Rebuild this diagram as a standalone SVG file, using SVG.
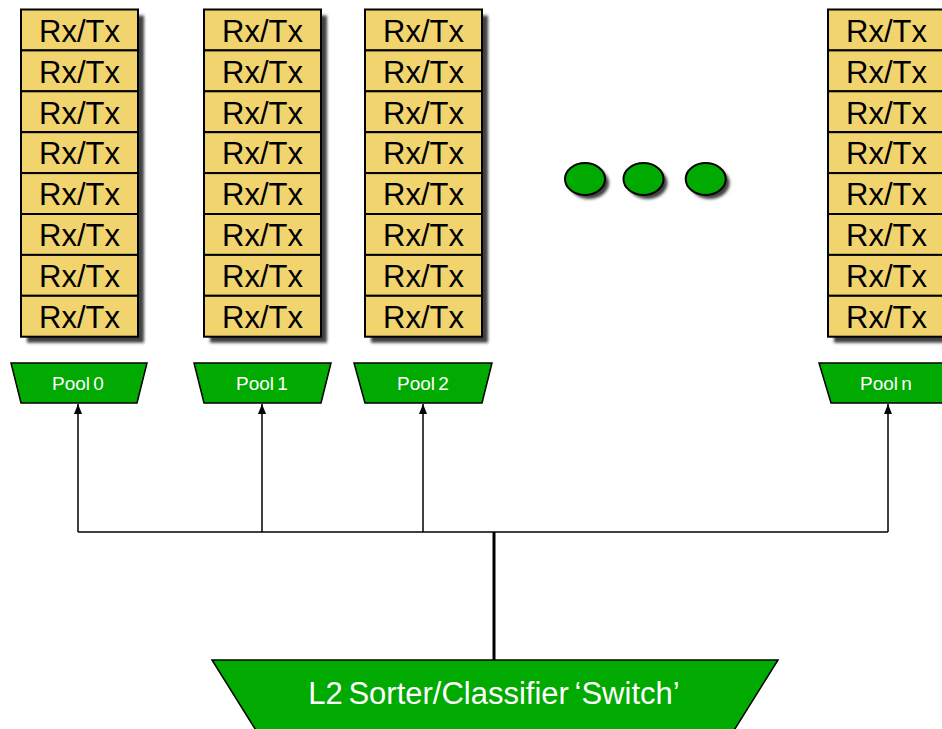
<svg xmlns="http://www.w3.org/2000/svg" width="942" height="729" viewBox="0 0 942 729">
  <defs>
    <filter id="soft" x="-20%" y="-20%" width="140%" height="140%">
      <feGaussianBlur stdDeviation="1.5"/>
    </filter>
    <marker id="arrow" markerWidth="10" markerHeight="8" refX="10" refY="4" orient="auto" markerUnits="userSpaceOnUse" viewBox="0 0 10 8">
      <path d="M0,0 L10,4 L0,8 Z" fill="#000"/>
    </marker>
    <!-- one stack of eight Rx/Tx queues, 117 wide -->
    <g id="stack">
      <rect x="6" y="6" width="117" height="327.2" fill="#404040" filter="url(#soft)"/>
      <g class="cell">
        <rect x="0" y="0" width="117" height="40.9"/>
        <rect x="0" y="40.9" width="117" height="40.9"/>
        <rect x="0" y="81.8" width="117" height="40.9"/>
        <rect x="0" y="122.7" width="117" height="40.9"/>
        <rect x="0" y="163.6" width="117" height="40.9"/>
        <rect x="0" y="204.5" width="117" height="40.9"/>
        <rect x="0" y="245.4" width="117" height="40.9"/>
        <rect x="0" y="286.3" width="117" height="40.9"/>
      </g>
      <g class="q">
        <text x="58.5" y="32.2">Rx/Tx</text>
        <text x="58.5" y="73.1">Rx/Tx</text>
        <text x="58.5" y="114">Rx/Tx</text>
        <text x="58.5" y="154.9">Rx/Tx</text>
        <text x="58.5" y="195.8">Rx/Tx</text>
        <text x="58.5" y="236.7">Rx/Tx</text>
        <text x="58.5" y="277.6">Rx/Tx</text>
        <text x="58.5" y="318.5">Rx/Tx</text>
      </g>
    </g>
  </defs>
  <style>
    .cell rect { fill: #F2D46E; stroke: #000; stroke-width: 2; }
    .q text { font-family: "Liberation Sans", Arial, sans-serif; font-size: 31px; fill: #000; text-anchor: middle; }
    .pool { fill: #00AA00; stroke: #000; stroke-width: 1.5; stroke-linejoin: miter; }
    .plabel { font-family: "Liberation Sans", Arial, sans-serif; font-size: 19px; fill: #fff; text-anchor: middle; word-spacing: -2px; }
    .dot { fill: #00AA00; stroke: #000; stroke-width: 2; }
    .wire { fill: none; stroke: #000; stroke-width: 1.5; }
  </style>

  <!-- queue stacks -->
  <g id="stack0"><use href="#stack" x="21" y="9.5"/></g>
  <g id="stack1"><use href="#stack" x="204" y="9.5"/></g>
  <g id="stack2"><use href="#stack" x="365" y="9.5"/></g>
  <g id="stackn"><use href="#stack" x="828" y="9.5"/></g>

  <!-- ellipsis dots -->
  <g id="more">
    <ellipse cx="589" cy="183" rx="20" ry="16" fill="#404040" filter="url(#soft)"/>
    <ellipse cx="647.5" cy="183" rx="20" ry="16" fill="#404040" filter="url(#soft)"/>
    <ellipse cx="709.7" cy="183" rx="20" ry="16" fill="#404040" filter="url(#soft)"/>
    <ellipse class="dot" cx="585" cy="179" rx="20" ry="16"/>
    <ellipse class="dot" cx="643.5" cy="179" rx="20" ry="16"/>
    <ellipse class="dot" cx="705.7" cy="179" rx="20" ry="16"/>
  </g>

  <!-- pools -->
  <g id="pool0">
    <polygon class="pool" points="11,363 147,363 137,403 21,403"/>
    <text class="plabel" x="78" y="390">Pool 0</text>
  </g>
  <g id="pool1">
    <polygon class="pool" points="194,363 331,363 321,403 204,403"/>
    <text class="plabel" x="262" y="390">Pool 1</text>
  </g>
  <g id="pool2">
    <polygon class="pool" points="354,363 492,363 482,403 365,403"/>
    <text class="plabel" x="423" y="390">Pool 2</text>
  </g>
  <g id="pooln">
    <polygon class="pool" points="819,363 955,363 945,403 831,403"/>
    <text class="plabel" x="886" y="390">Pool n</text>
  </g>

  <!-- switch -->
  <g id="switch">
    <polygon class="pool" points="212,660 778,660 728,740 262,740"/>
    <text x="494" y="704" font-family="'Liberation Sans', Arial, sans-serif" font-size="31" fill="#fff" text-anchor="middle" word-spacing="-3">L2 Sorter/Classifier ‘Switch’</text>
  </g>

  <!-- connectors -->
  <g id="connectors">
    <line x1="494" y1="532" x2="494" y2="660" stroke="#000" stroke-width="3"/>
    <line class="wire" x1="78" y1="532" x2="888" y2="532"/>
    <line class="wire" x1="78" y1="532" x2="78" y2="404" marker-end="url(#arrow)"/>
    <line class="wire" x1="262" y1="532" x2="262" y2="404" marker-end="url(#arrow)"/>
    <line class="wire" x1="423" y1="532" x2="423" y2="404" marker-end="url(#arrow)"/>
    <line class="wire" x1="888" y1="532" x2="888" y2="404" marker-end="url(#arrow)"/>
  </g>
</svg>
